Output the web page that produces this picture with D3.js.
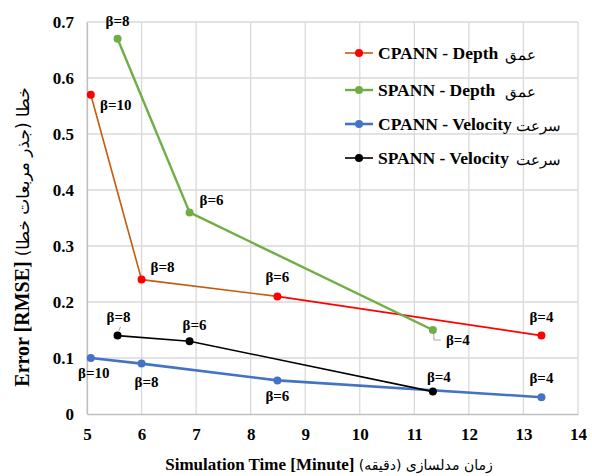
<!DOCTYPE html>
<html>
<head>
<meta charset="utf-8">
<script src="https://cdn.jsdelivr.net/npm/d3@7"></script>
<style>
  body { margin: 0; background: #fff; }
  text { font-family: "Liberation Serif", "Times New Roman", serif; }
</style>
</head>
<body>
<svg id="chart"></svg>
<script>
// data
var seriesNames = ['CPANN - Depth', 'SPANN - Depth', 'CPANN - Velocity', 'SPANN - Velocity'];
var seriesFarsi = ['عمق', 'عمق', 'سرعت', 'سرعت'];
var cpannDepthX = [5.07, 6.0, 8.49, 13.33];
var cpannDepthY = [0.57, 0.24, 0.21, 0.14];
var spannDepthX = [5.56, 6.88, 11.34];
var spannDepthY = [0.67, 0.36, 0.15];
var cpannVelX = [5.07, 6.0, 8.49, 13.33];
var cpannVelY = [0.10, 0.09, 0.06, 0.03];
var spannVelX = [5.56, 6.88, 11.34];
var spannVelY = [0.14, 0.13, 0.04];
var cpannBeta = ['β=10', 'β=8', 'β=6', 'β=4'];
var spannBeta = ['β=8', 'β=6', 'β=4'];
var xTicks = [5, 6, 7, 8, 9, 10, 11, 12, 13, 14];
var yTicks = [0, 0.1, 0.2, 0.3, 0.4, 0.5, 0.6, 0.7];

// styling / label placement
var lineColors = ['#c55a11', '#70ad47', '#4472c4', '#000000'];
var markColors = ['#ff0000', '#70ad47', '#4472c4', '#000000'];
var lineWidths = [1.6, 2.4, 2.6, 1.6];
var labelOff = [
  [[25, 10], [21, -13], [0, -19], [0, -19]],
  [[0, -18], [22, -12], [25, 10]],
  [[3, 15], [5, 18], [0, 16], [0, -19]],
  [[1, -19], [5, -16], [6, -15]]
];

var series = [
  { x: cpannDepthX, y: cpannDepthY, b: cpannBeta },
  { x: spannDepthX, y: spannDepthY, b: spannBeta },
  { x: cpannVelX, y: cpannVelY, b: cpannBeta },
  { x: spannVelX, y: spannVelY, b: spannBeta }
];

var W = 592, H = 476;
var svg = d3.select('#chart').attr('width', W).attr('height', H);

var x = d3.scaleLinear().domain([5, 14]).range([87, 578]);
var y = d3.scaleLinear().domain([0, 0.7]).range([414, 22]);

// grid
svg.append('g').selectAll('line').data(xTicks).enter().append('line')
  .attr('x1', d => x(d)).attr('x2', d => x(d))
  .attr('y1', y(0)).attr('y2', y(0.7))
  .attr('stroke', '#d9d9d9').attr('stroke-width', 1.3);
svg.append('g').selectAll('line').data(yTicks.slice(1)).enter().append('line')
  .attr('x1', x(5)).attr('x2', x(14))
  .attr('y1', d => y(d)).attr('y2', d => y(d))
  .attr('stroke', '#d9d9d9').attr('stroke-width', 1.3);

// axes
var xAxis = svg.append('g').attr('transform', 'translate(0,' + y(0) + ')')
  .call(d3.axisBottom(x).tickValues(xTicks).tickSize(0).tickPadding(14).tickFormat(d3.format('d')));
var yAxis = svg.append('g').attr('transform', 'translate(' + x(5) + ',0)')
  .call(d3.axisLeft(y).tickValues(yTicks).tickSize(0).tickPadding(13).tickFormat(d => d === 0 ? '0' : d3.format('.1f')(d)));
[xAxis, yAxis].forEach(function (g) {
  g.select('.domain').attr('stroke', '#bfbfbf').attr('stroke-width', 1.3);
  g.selectAll('text').attr('font-family', '"Liberation Serif", serif')
    .attr('font-size', 17).attr('font-weight', 'bold').attr('fill', '#000');
});

// lines + points
series.forEach(function (s, si) {
  var pts = s.x.map((v, i) => [v, s.y[i]]);
  for (var i = 0; i < pts.length - 1; i++) {
    var col = lineColors[si];
    if (si === 0 && i === pts.length - 2) col = '#ff0000';
    svg.append('line')
      .attr('x1', x(pts[i][0])).attr('y1', y(pts[i][1]))
      .attr('x2', x(pts[i + 1][0])).attr('y2', y(pts[i + 1][1]))
      .attr('stroke', col).attr('stroke-width', lineWidths[si]);
  }
  svg.append('g').selectAll('circle').data(pts).enter().append('circle')
    .attr('cx', d => x(d[0])).attr('cy', d => y(d[1]))
    .attr('r', 4).attr('fill', markColors[si]);
  svg.append('g').selectAll('text').data(pts).enter().append('text')
    .attr('x', (d, i) => x(d[0]) + labelOff[si][i][0])
    .attr('y', (d, i) => y(d[1]) + labelOff[si][i][1] + 5)
    .attr('text-anchor', 'middle')
    .attr('font-size', 15).attr('font-weight', 'bold')
    .text((d, i) => s.b[i]);
});

// small leader lines
svg.append('polyline')
  .attr('points', [[x(11.34) + 1, y(0.15) + 4], [x(11.34) + 1, y(0.15) + 10], [x(11.34) + 8, y(0.15) + 10]].join(' '))
  .attr('fill', 'none').attr('stroke', '#a6a6a6').attr('stroke-width', 1);
svg.append('line')
  .attr('x1', x(5.56) + 1).attr('y1', y(0.14) - 4)
  .attr('x2', x(5.56) + 3).attr('y2', y(0.14) - 9)
  .attr('stroke', '#a6a6a6').attr('stroke-width', 1);

// legend
var legY = [53, 90, 124, 158];
var lg = svg.append('g').selectAll('g').data(seriesNames).enter().append('g')
  .attr('transform', (d, i) => 'translate(345,' + legY[i] + ')');
lg.append('line').attr('x1', 0).attr('x2', 28)
  .attr('stroke', (d, i) => lineColors[i]).attr('stroke-width', (d, i) => lineWidths[i]);
lg.append('circle').attr('cx', 14).attr('r', 4).attr('fill', (d, i) => markColors[i]);
lg.append('text').attr('x', 33).attr('y', 6)
  .attr('font-size', 17.5).attr('font-weight', 'bold').text(d => d);
lg.append('text').attr('x', (d, i) => i < 2 ? 160 : 171).attr('y', 7)
  .attr('font-family', '"DejaVu Sans", sans-serif')
  .attr('font-size', 15).text((d, i) => seriesFarsi[i]);

// axis titles
var xt = svg.append('text').attr('x', 329).attr('y', 470).attr('text-anchor', 'middle');
xt.append('tspan').attr('font-size', 17).attr('font-weight', 'bold').text('Simulation Time [Minute] ');
xt.append('tspan').attr('font-family', '"DejaVu Sans", sans-serif').attr('font-size', 14).text('زمان مدلسازی (دقیقه)');

var yt = svg.append('text').attr('transform', 'translate(29,237) rotate(-90)').attr('text-anchor', 'middle');
yt.append('tspan').attr('font-size', 20).attr('font-weight', 'bold').text('Error [RMSE] ');
yt.append('tspan').attr('font-family', '"DejaVu Sans", sans-serif').attr('font-size', 17).text('خطا (جذر مربعات خطا)');
</script>
</body>
</html>
